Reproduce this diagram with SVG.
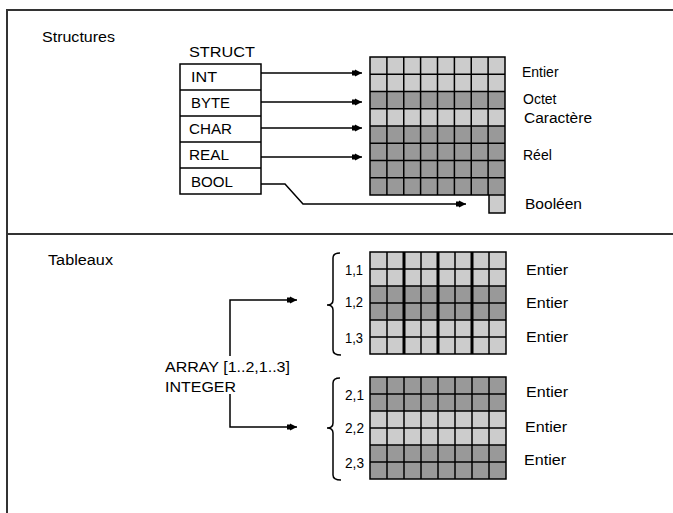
<svg xmlns="http://www.w3.org/2000/svg" width="673" height="513" viewBox="0 0 673 513">
<style>
text{font-family:"Liberation Sans",Arial,sans-serif;font-size:14px;fill:#000}
.ln{stroke:#000;stroke-width:1.5;fill:none}
.frame{stroke:#333;stroke-width:2;fill:none}
.lt{fill:#cccccc}
.dk{fill:#999999}
.grid{stroke:#000;stroke-width:1.5;fill:none}
.thick{stroke:#000;stroke-width:3;fill:none}
</style>
<defs>
<marker id="ah" markerUnits="userSpaceOnUse" markerWidth="11" markerHeight="8" refX="10" refY="4" orient="auto">
<path d="M0,1.5 L3,1.5 L3,0.5 L10,4 L3,7.5 L3,6.5 L0,6.5 z" fill="#000"/>
</marker>
</defs>
<rect width="673" height="513" fill="#fff"/>
<g id="frame">
<rect class="frame" x="7" y="10" width="700" height="600"/>
<line class="frame" x1="7" y1="234" x2="673" y2="234"/>
</g>
<g id="titles">
<text x="42" y="42" textLength="73" lengthAdjust="spacingAndGlyphs">Structures</text>
<text x="48" y="265" textLength="65" lengthAdjust="spacingAndGlyphs">Tableaux</text>
</g>
<g id="struct">
<text x="189" y="57" textLength="66" lengthAdjust="spacingAndGlyphs">STRUCT</text>
<rect class="ln" x="180" y="64" width="81" height="130"/>
<path class="ln" d="M180,90H261M180,116H261M180,142H261M180,168H261"/>
<text x="191" y="82" textLength="26" lengthAdjust="spacingAndGlyphs">INT</text>
<text x="191" y="108" textLength="39" lengthAdjust="spacingAndGlyphs">BYTE</text>
<text x="189" y="134" textLength="43" lengthAdjust="spacingAndGlyphs">CHAR</text>
<text x="189" y="160" textLength="40" lengthAdjust="spacingAndGlyphs">REAL</text>
<text x="191" y="187" textLength="42" lengthAdjust="spacingAndGlyphs">BOOL</text>
</g>
<g id="struct-grid">
<rect class="lt" x="370" y="57" width="135" height="34.5"/>
<rect class="dk" x="370" y="91.5" width="135" height="17.25"/>
<rect class="lt" x="370" y="108.75" width="135" height="17.25"/>
<rect class="dk" x="370" y="126" width="135" height="69"/>
<rect class="lt" x="489" y="195" width="16" height="18"/>
<path class="grid" d="M370,57H505V195H370Z M386.9,57V195M403.75,57V195M420.6,57V195M437.5,57V195M454.4,57V195M471.25,57V195M488.1,57V195 M370,74.25H505M370,91.5H505M370,108.75H505M370,126H505M370,143.25H505M370,160.5H505M370,177.75H505 M489,195V213H505V195"/>
<text x="522" y="77">Entier</text>
<text x="523" y="104">Octet</text>
<text x="524" y="123" textLength="68" lengthAdjust="spacingAndGlyphs">Caractère</text>
<text x="523" y="160">Réel</text>
<text x="525" y="209" textLength="57" lengthAdjust="spacingAndGlyphs">Booléen</text>
</g>
<g id="array-label">
<text x="165" y="372" textLength="125" lengthAdjust="spacingAndGlyphs">ARRAY [1..2,1..3]</text>
<text x="165" y="392" textLength="71" lengthAdjust="spacingAndGlyphs">INTEGER</text>
</g>
<g id="array-1">
<rect class="lt" x="370" y="252" width="136" height="34"/>
<rect class="dk" x="370" y="286" width="136" height="34"/>
<rect class="lt" x="370" y="320" width="136" height="34"/>
<path class="grid" d="M370,252H506V354H370Z M387,252V354M421,252V354M455,252V354M489,252V354 M370,269H506M370,286H506M370,303H506M370,320H506M370,337H506"/>
<path class="thick" d="M404,252V354M438,252V354M472,252V354"/>
<path class="ln" d="M340,253Q333,253 333,258L333,300Q333,305 327,305Q333,305 333,310L333,350Q333,355 341,355"/>
<text x="345" y="275" textLength="18" lengthAdjust="spacingAndGlyphs">1,1</text>
<text x="345" y="307" textLength="18" lengthAdjust="spacingAndGlyphs">1,2</text>
<text x="345" y="343" textLength="18" lengthAdjust="spacingAndGlyphs">1,3</text>
<text x="526" y="275" textLength="42" lengthAdjust="spacingAndGlyphs">Entier</text>
<text x="526" y="308" textLength="42" lengthAdjust="spacingAndGlyphs">Entier</text>
<text x="526" y="342" textLength="42" lengthAdjust="spacingAndGlyphs">Entier</text>
</g>
<g id="array-2">
<rect class="dk" x="370" y="377" width="136" height="34"/>
<rect class="lt" x="370" y="411" width="136" height="34"/>
<rect class="dk" x="370" y="445" width="136" height="34"/>
<path class="grid" d="M370,377H506V479H370Z M387,377V479M404,377V479M421,377V479M438,377V479M455,377V479M472,377V479M489,377V479 M370,394H506M370,411H506M370,428H506M370,445H506M370,462H506"/>
<path class="ln" d="M340,378Q333,378 333,383L333,423Q333,428 327,428Q333,428 333,433L333,475Q333,480 341,480"/>
<text x="345" y="400" textLength="19" lengthAdjust="spacingAndGlyphs">2,1</text>
<text x="345" y="433" textLength="19" lengthAdjust="spacingAndGlyphs">2,2</text>
<text x="345" y="468" textLength="19" lengthAdjust="spacingAndGlyphs">2,3</text>
<text x="526" y="397" textLength="42" lengthAdjust="spacingAndGlyphs">Entier</text>
<text x="525" y="432" textLength="42" lengthAdjust="spacingAndGlyphs">Entier</text>
<text x="524" y="465" textLength="42" lengthAdjust="spacingAndGlyphs">Entier</text>
</g>
<g id="connectors">
<path class="ln" d="M261,73H362" marker-end="url(#ah)"/>
<path class="ln" d="M261,102H362" marker-end="url(#ah)"/>
<path class="ln" d="M261,128H362" marker-end="url(#ah)"/>
<path class="ln" d="M261,157H362" marker-end="url(#ah)"/>
<path class="ln" d="M261,184H285L303,204H466" marker-end="url(#ah)"/>
<path class="ln" d="M230,356V300H297" marker-end="url(#ah)"/>
<path class="ln" d="M230,394V427H297" marker-end="url(#ah)"/>
</g>
</svg>
